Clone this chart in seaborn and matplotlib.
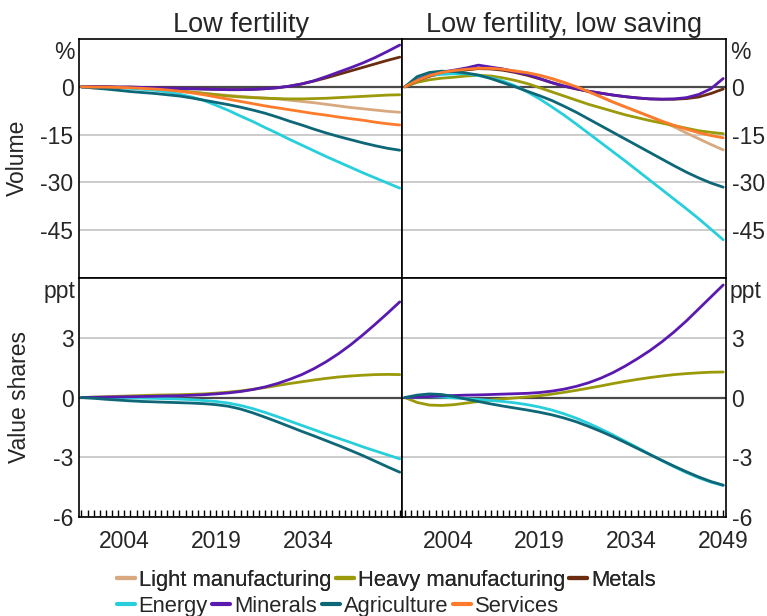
import pandas as pd
import matplotlib
matplotlib.use("Agg")
import matplotlib.pyplot as plt
from matplotlib.lines import Line2D
from matplotlib.ticker import FixedLocator, MultipleLocator
import seaborn as sns

years = list(range(1997, 2050, 2))

sectors = ["Light manufacturing", "Heavy manufacturing", "Metals", "Energy",
           "Minerals", "Agriculture", "Services"]
colors = ["#d8a97f", "#9a9a0a", "#6b2d10", "#27cfdc", "#5a1ab0", "#0d6777", "#ff7b2b"]

# Volume, low fertility (%)
vol_lf_light = [0, 0, -0.1, -0.2, -0.3, -0.4, -0.6, -0.9, -1.2, -1.6, -2.0, -2.4, -2.7, -3.0,
                -3.3, -3.5, -3.8, -4.2, -4.6, -5.0, -5.5, -6.0, -6.5, -6.9, -7.3, -7.7, -8.0]
vol_lf_heavy = [0, 0, -0.1, -0.2, -0.3, -0.5, -0.7, -1.0, -1.3, -1.7, -2.1, -2.5, -2.9, -3.2,
                -3.4, -3.6, -3.7, -3.8, -3.8, -3.7, -3.6, -3.4, -3.2, -3.0, -2.8, -2.6, -2.5]
vol_lf_metals = [0, 0, 0, -0.1, -0.1, -0.2, -0.3, -0.4, -0.5, -0.6, -0.7, -0.8, -0.9, -0.9,
                 -0.8, -0.6, -0.3, 0.2, 0.9, 1.8, 2.8, 3.9, 5.0, 6.1, 7.2, 8.3, 9.3]
vol_lf_energy = [0, -0.1, -0.2, -0.3, -0.5, -0.8, -1.1, -1.6, -2.3, -3.2, -4.3, -5.8, -7.4, -9.2,
                 -10.9, -12.8, -14.6, -16.5, -18.3, -20.1, -21.9, -23.6, -25.3, -27.0, -28.6, -30.2, -31.8]
vol_lf_minerals = [0, 0, 0, -0.1, -0.1, -0.2, -0.3, -0.4, -0.5, -0.6, -0.7, -0.8, -0.9, -0.9,
                   -0.8, -0.6, -0.3, 0.2, 0.9, 1.9, 3.2, 4.6, 6.0, 7.5, 9.2, 11.1, 13.1]
vol_lf_agri = [0, -0.4, -0.7, -1.1, -1.5, -1.8, -2.1, -2.5, -2.9, -3.5, -4.2, -4.9, -5.6, -6.4,
               -7.3, -8.3, -9.5, -10.8, -12.0, -13.3, -14.5, -15.6, -16.6, -17.6, -18.5, -19.3, -19.9]
vol_lf_services = [0, -0.1, -0.1, -0.2, -0.3, -0.5, -0.7, -1.0, -1.4, -1.9, -2.5, -3.2, -3.9, -4.6,
                   -5.3, -6.0, -6.6, -7.2, -7.8, -8.4, -8.9, -9.5, -10.0, -10.5, -11.1, -11.6, -12.0]

# Volume, low fertility, low saving (%)
vol_ls_light = [0, 1.9, 3.4, 4.4, 5.0, 5.5, 5.8, 5.8, 5.5, 5.0, 4.4, 3.6, 2.5, 1.2,
                -0.2, -1.6, -3.2, -4.8, -6.3, -7.8, -9.3, -10.9, -12.6, -14.5, -16.3, -18.1, -19.8]
vol_ls_heavy = [0, 1.4, 2.2, 2.7, 3.0, 3.4, 3.6, 3.4, 2.8, 2.0, 1.0, -0.3, -1.6, -2.9,
                -4.2, -5.5, -6.6, -7.7, -8.8, -9.7, -10.6, -11.4, -12.2, -13.0, -13.8, -14.3, -14.7]
vol_ls_metals = [0, 2.0, 3.3, 4.2, 4.8, 5.3, 5.7, 5.6, 5.2, 4.5, 3.6, 2.5, 1.3, 0.2,
                 -0.7, -1.4, -2.0, -2.6, -3.1, -3.5, -3.8, -3.9, -3.9, -3.7, -3.2, -2.1, -0.7]
vol_ls_energy = [0, 2.7, 3.6, 3.9, 4.1, 4.1, 3.5, 2.8, 1.8, 0.3, -1.6, -3.8, -6.3, -8.9,
                 -11.7, -14.6, -17.5, -20.4, -23.3, -26.3, -29.3, -32.3, -35.3, -38.3, -41.4, -44.7, -48.0]
vol_ls_minerals = [0, 2.1, 3.6, 4.6, 5.2, 5.9, 6.8, 6.2, 5.6, 4.7, 3.9, 2.6, 1.3, 0.2,
                   -0.6, -1.4, -2.0, -2.6, -3.1, -3.5, -3.8, -3.9, -3.8, -3.4, -2.4, -0.6, 2.6]
vol_ls_agri = [0, 3.2, 4.5, 4.9, 4.8, 4.3, 3.7, 2.6, 1.3, 0.0, -1.4, -2.8, -4.3, -6.1,
               -8.0, -10.1, -12.2, -14.3, -16.4, -18.5, -20.6, -22.7, -24.8, -26.8, -28.6, -30.2, -31.5]
vol_ls_services = [0, 2.0, 3.5, 4.5, 5.1, 5.5, 5.8, 5.8, 5.5, 4.9, 4.4, 3.6, 2.6, 1.4,
                   0.0, -1.5, -3.1, -4.8, -6.3, -7.8, -9.3, -10.8, -12.1, -13.3, -14.4, -15.3, -16.0]

# Value shares, low fertility (ppt)
shr_lf_heavy = [0, 0.02, 0.04, 0.06, 0.08, 0.1, 0.12, 0.13, 0.14, 0.16, 0.18, 0.22, 0.27, 0.33,
                0.41, 0.5, 0.6, 0.7, 0.79, 0.88, 0.96, 1.03, 1.08, 1.12, 1.15, 1.16, 1.15]
shr_lf_energy = [0, 0, -0.01, -0.01, -0.02, -0.03, -0.04, -0.06, -0.08, -0.11, -0.15, -0.2, -0.28, -0.4,
                 -0.56, -0.75, -0.96, -1.18, -1.4, -1.62, -1.84, -2.05, -2.26, -2.48, -2.68, -2.88, -3.08]
shr_lf_minerals = [0, 0.01, 0.02, 0.03, 0.04, 0.05, 0.06, 0.08, 0.09, 0.11, 0.14, 0.18, 0.23, 0.3,
                   0.4, 0.53, 0.7, 0.91, 1.15, 1.45, 1.8, 2.2, 2.65, 3.15, 3.68, 4.23, 4.8]
shr_lf_agri = [0, -0.04, -0.09, -0.13, -0.17, -0.2, -0.22, -0.24, -0.26, -0.28, -0.31, -0.36, -0.44, -0.58,
               -0.77, -0.99, -1.22, -1.46, -1.7, -1.93, -2.17, -2.41, -2.66, -2.92, -3.2, -3.48, -3.75]

# Value shares, low fertility, low saving (ppt)
shr_ls_heavy = [0, -0.25, -0.38, -0.4, -0.36, -0.28, -0.2, -0.13, -0.07, -0.02, 0.03, 0.09, 0.17, 0.26,
                0.36, 0.47, 0.58, 0.7, 0.81, 0.91, 1.0, 1.08, 1.15, 1.2, 1.24, 1.27, 1.28]
shr_ls_energy = [0, 0.03, 0.04, 0.02, -0.02, -0.06, -0.1, -0.15, -0.2, -0.27, -0.36, -0.48, -0.63, -0.82,
                 -1.04, -1.3, -1.58, -1.88, -2.2, -2.52, -2.85, -3.17, -3.48, -3.77, -4.03, -4.25, -4.42]
shr_ls_minerals = [0, 0.02, 0.05, 0.08, 0.1, 0.12, 0.13, 0.15, 0.17, 0.19, 0.21, 0.25, 0.32, 0.42,
                   0.56, 0.74, 0.97, 1.25, 1.58, 1.95, 2.35, 2.8, 3.3, 3.85, 4.45, 5.05, 5.65]
shr_ls_agri = [0, 0.12, 0.18, 0.15, 0.05, -0.08, -0.2, -0.32, -0.43, -0.53, -0.63, -0.74, -0.87, -1.03,
               -1.22, -1.45, -1.7, -1.97, -2.26, -2.56, -2.86, -3.16, -3.45, -3.73, -3.99, -4.22, -4.4]

panels = [
    [dict(zip(sectors, [vol_lf_light, vol_lf_heavy, vol_lf_metals, vol_lf_energy,
                        vol_lf_minerals, vol_lf_agri, vol_lf_services])),
     dict(zip(sectors, [vol_ls_light, vol_ls_heavy, vol_ls_metals, vol_ls_energy,
                        vol_ls_minerals, vol_ls_agri, vol_ls_services]))],
    [{"Heavy manufacturing": shr_lf_heavy, "Energy": shr_lf_energy,
      "Minerals": shr_lf_minerals, "Agriculture": shr_lf_agri},
     {"Heavy manufacturing": shr_ls_heavy, "Energy": shr_ls_energy,
      "Minerals": shr_ls_minerals, "Agriculture": shr_ls_agri}],
]

sns.set_style("white")
plt.rcParams["font.family"] = ["Liberation Sans", "DejaVu Sans"]
plt.rcParams["axes.unicode_minus"] = False
fs = 16.5
palette = dict(zip(sectors, colors))

fig, axes = plt.subplots(2, 2, figsize=(7.67, 6.16), dpi=100)
fig.subplots_adjust(left=0.103, right=0.9465, top=0.9367, bottom=0.1607, wspace=0, hspace=0)

row_setup = [
    dict(ylim=(-60, 15), ticks=[0, -15, -30, -45], unit="%"),
    dict(ylim=(-6, 6), ticks=[3, 0, -3, -6], unit="ppt"),
]

for r in range(2):
    for c in range(2):
        ax = axes[r, c]
        data = panels[r][c]
        df = pd.DataFrame([(y, s, v) for s in sectors if s in data for y, v in zip(years, data[s])],
                          columns=["year", "sector", "value"])
        hue_order = [s for s in sectors if s in data]
        sns.lineplot(data=df, x="year", y="value", hue="sector", hue_order=hue_order,
                     palette=palette, linewidth=2, legend=False, ax=ax, zorder=3)
        setup = row_setup[r]
        ax.set_xlim(1996.6, 2049.45)
        ax.set_ylim(*setup["ylim"])
        ax.set_yticks(setup["ticks"])
        ax.set_yticklabels([str(t) for t in setup["ticks"]])
        ax.grid(axis="y", color="#c4c4c4", linewidth=1.2)
        ax.grid(axis="x", visible=False)
        ax.axhline(0, color="#4a4a4a", linewidth=1.6, zorder=2)
        ax.set_xlabel("")
        ax.set_ylabel("")
        for sp in ax.spines.values():
            sp.set_color("black")
            sp.set_linewidth(1.2)
        ax.tick_params(axis="y", length=0, labelsize=fs, pad=4)
        if c == 1:
            ax.yaxis.tick_right()
            ax.text(1.012, 0.99, setup["unit"], transform=ax.transAxes, ha="left", va="top", fontsize=fs)
        else:
            ax.text(-0.012, 0.99, setup["unit"], transform=ax.transAxes, ha="right", va="top", fontsize=fs)
        if r == 0:
            ax.tick_params(axis="x", which="both", bottom=False, labelbottom=False)
        else:
            majors = [2004, 2019, 2034] if c == 0 else [2004, 2019, 2034, 2049]
            ax.xaxis.set_major_locator(FixedLocator(majors))
            ax.xaxis.set_minor_locator(MultipleLocator(1))
            ax.tick_params(axis="x", which="both", direction="in", length=5, width=1,
                           bottom=True, top=False, labelsize=fs, pad=9, color="black")

axes[0, 0].set_title("Low fertility", fontsize=19.5, pad=5)
axes[0, 1].set_title("Low fertility, low saving", fontsize=19.5, pad=5)
fig.text(0.023, 0.743, "Volume", rotation=90, ha="center", va="center", fontsize=fs)
fig.text(0.026, 0.355, "Value shares", rotation=90, ha="center", va="center", fontsize=fs)

handles = [Line2D([], [], color=col, linewidth=3) for col in colors]
leg_kw = dict(frameon=False, fontsize=15.8, handlelength=0.82, handletextpad=0.19,
              columnspacing=0.2, borderpad=0, borderaxespad=0, loc="center left")
leg1 = fig.legend(handles[:3], sectors[:3], ncol=3, bbox_to_anchor=(0.152, 0.0584), **leg_kw)
fig.add_artist(leg1)
fig.legend(handles[3:], sectors[3:], ncol=4, bbox_to_anchor=(0.152, 0.0154), **leg_kw)

fig.savefig("out.png", dpi=100)
